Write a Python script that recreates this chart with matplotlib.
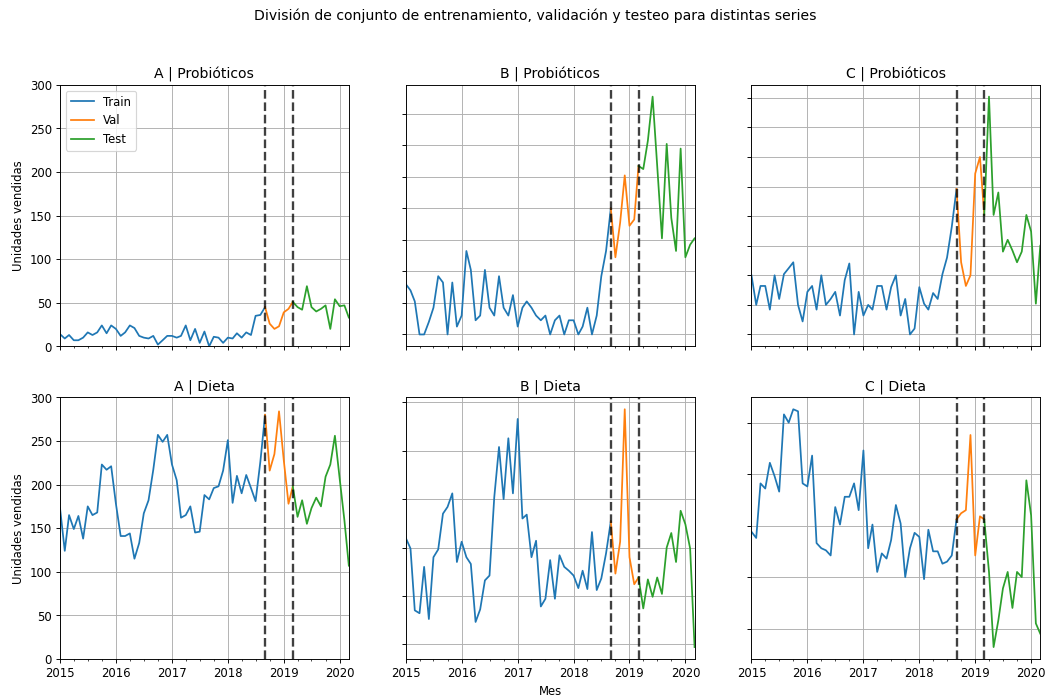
import pandas as pd
import matplotlib
matplotlib.use("Agg")
import matplotlib.pyplot as plt
import matplotlib.dates as mdates
from matplotlib.ticker import MultipleLocator

# Monthly sales, 2015-01 .. 2020-03
meses = pd.date_range("2015-01-01", "2020-03-01", freq="MS")
inicio_val = pd.Timestamp("2018-09-01")
inicio_test = pd.Timestamp("2019-03-01")

a_probioticos = [14, 9, 13, 7, 7, 10, 16, 13, 16, 24, 15, 24, 20, 12, 16, 24, 21, 12, 10, 9,
                 12, 2, 7, 12, 12, 10, 12, 24, 7, 20, 4, 17, 0, 11, 10, 4, 10, 9, 15, 10,
                 16, 13, 35, 36, 45,
                 26, 20, 23, 39, 43, 51,
                 45, 42, 69, 45, 40, 43, 47, 20, 54, 46, 47, 33]
b_probioticos = [32, 28, 21, 0, 0, 8, 17, 37, 33, 0, 33, 5, 12, 53, 41, 9, 12, 41, 17, 12,
                 37, 17, 12, 25, 5, 17, 21, 17, 12, 9, 12, 0, 9, 12, 0, 9, 9, 0, 5, 17,
                 0, 12, 37, 53, 80,
                 49, 71, 101, 69, 73, 107,
                 105, 123, 151, 107, 61, 121, 74, 53, 118, 49, 57, 61]
c_probioticos = [50, 25, 41, 41, 21, 50, 30, 51, 56, 61, 25, 11, 36, 41, 21, 50, 25, 30, 36, 16,
                 46, 60, 0, 36, 16, 25, 21, 41, 41, 21, 40, 50, 16, 30, 0, 5, 40, 26, 21, 35,
                 30, 51, 65, 91, 123,
                 61, 41, 50, 136, 150, 101,
                 201, 101, 120, 70, 80, 71, 61, 70, 101, 87, 26, 75]
a_dieta = [173, 124, 165, 149, 164, 138, 175, 165, 168, 223, 217, 221, 178, 141, 141, 144,
           115, 133, 167, 182, 217, 257, 249, 257, 223, 205, 162, 165, 175, 145, 146, 188,
           183, 196, 198, 216, 251, 179, 210, 190, 211, 196, 181, 226, 280,
           216, 235, 284, 228, 178, 198,
           163, 182, 155, 173, 185, 175, 209, 223, 256, 207, 159, 107]
b_dieta = [160, 149, 85, 82, 130, 76, 140, 148, 185, 192, 206, 135, 156, 140, 133, 73,
           86, 116, 121, 202, 254, 200, 263, 206, 283, 180, 184, 140, 157, 89, 97, 137,
           97, 142, 130, 126, 121, 108, 126, 107, 166, 106, 118, 144, 177,
           123, 156, 293, 140, 112, 119,
           87, 117, 99, 119, 102, 150, 165, 135, 188, 174, 149, 47]
c_dieta = [144, 138, 191, 186, 211, 198, 183, 258, 250, 263, 261, 191, 188, 218, 133, 128,
           126, 121, 168, 151, 178, 178, 191, 165, 223, 128, 151, 105, 123, 118, 136, 170,
           152, 100, 128, 143, 139, 98, 146, 125, 125, 113, 115, 121, 156,
           162, 165, 238, 121, 159, 156,
           105, 32, 58, 89, 105, 70, 105, 100, 194, 160, 55, 45]

tiendas = ["A", "B", "C"]
categorias = ["Probióticos", "Dieta"]
series = {
    ("A", "Probióticos"): a_probioticos,
    ("B", "Probióticos"): b_probioticos,
    ("C", "Probióticos"): c_probioticos,
    ("A", "Dieta"): a_dieta,
    ("B", "Dieta"): b_dieta,
    ("C", "Dieta"): c_dieta,
}
paso_y = {
    ("B", "Probióticos"): 20,
    ("C", "Probióticos"): 25,
    ("B", "Dieta"): 50,
    ("C", "Dieta"): 50,
}

DPI = 84
fig, axes = plt.subplots(2, 3, sharex=True, figsize=(1045.3 / DPI, 696.3 / DPI), dpi=DPI)
fig.subplots_adjust(left=60 / 1045, right=1040 / 1045, top=1 - 85 / 696,
                    bottom=1 - 659 / 696, wspace=0.197, hspace=0.195)

for r, cat in enumerate(categorias):
    for c, tienda in enumerate(tiendas):
        ax = axes[r, c]
        s = pd.Series(series[(tienda, cat)], index=meses, dtype=float)
        train = s[:inicio_val]
        val = s[inicio_val:inicio_test]
        test = s[inicio_test:]
        ax.plot(train.index, train.values, color="C0", label="Train")
        ax.plot(val.index, val.values, color="C1", label="Val")
        ax.plot(test.index, test.values, color="C2", label="Test")
        ax.axvline(inicio_val, color="k", linestyle="--", linewidth=2, alpha=0.75)
        ax.axvline(inicio_test, color="k", linestyle="--", linewidth=2, alpha=0.75)
        ax.set_xlim(meses[0], meses[-1])
        ax.set_title(f"{tienda} | {cat}")
        ax.grid(True)
        if tienda == "A":
            ax.set_ylim(0, 300)
            ax.yaxis.set_major_locator(MultipleLocator(50))
            ax.set_ylabel("Unidades vendidas")
        else:
            ax.yaxis.set_major_locator(MultipleLocator(paso_y[(tienda, cat)]))
            ax.tick_params(axis="y", labelleft=False)

for ax in axes.flat:
    ax.xaxis.set_major_locator(mdates.YearLocator())
    ax.xaxis.set_major_formatter(mdates.DateFormatter("%Y"))
    ax.xaxis.set_minor_locator(mdates.MonthLocator(bymonth=[4, 7, 10]))

axes[0, 0].legend(loc="upper left")
axes[1, 1].set_xlabel("Mes")
fig.suptitle("División de conjunto de entrenamiento, validación y testeo para distintas series",
             x=0.512, y=1 - 16 / 696, va="center")

fig.savefig("out.png", dpi=DPI)
